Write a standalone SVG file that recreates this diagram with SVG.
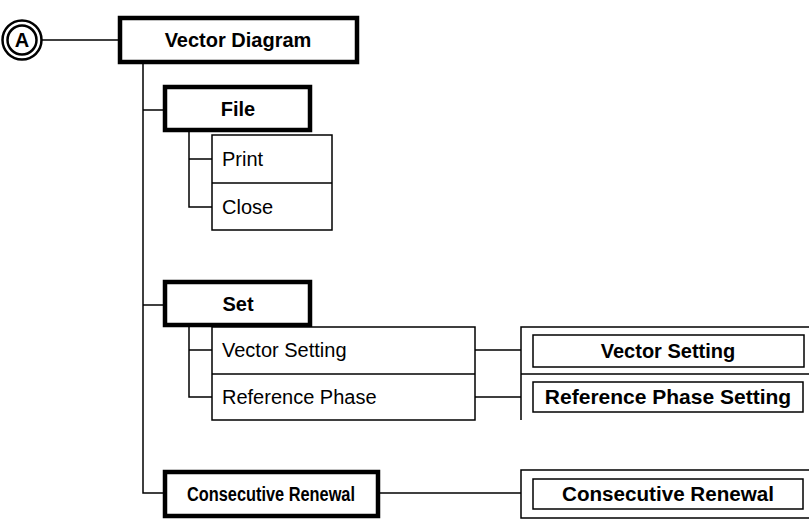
<svg xmlns="http://www.w3.org/2000/svg" width="809" height="522" viewBox="0 0 809 522">
<style>
.thick{fill:#fff;stroke:#000;stroke-width:4.5}
.thin{fill:#fff;stroke:#000;stroke-width:1.5}
.ln{fill:none;stroke:#000;stroke-width:1.5}
.b{font-family:"Liberation Sans",Arial,sans-serif;font-weight:bold;font-size:20px;text-anchor:middle;fill:#000}
.r{font-family:"Liberation Sans",Arial,sans-serif;font-size:20px;fill:#000}
</style>
<rect width="809" height="522" fill="#fff"/>
<g id="connectors">
<path class="ln" d="M42,40H120"/>
<path class="ln" d="M143,62V493H165"/>
<path class="ln" d="M143,110H165"/>
<path class="ln" d="M143,305H165"/>
<path class="ln" d="M189,130V207H212M189,159H212"/>
<path class="ln" d="M189,325V397H212M189,350H212"/>
<path class="ln" d="M475,350H521M475,397H521"/>
<path class="ln" d="M378,493H521"/>
</g>
<g id="nodeA">
<circle cx="22" cy="40" r="19.5" fill="#fff" stroke="#000" stroke-width="2.5"/>
<circle cx="22" cy="40" r="14.5" fill="#fff" stroke="#000" stroke-width="2.5"/>
<text class="b" x="22" y="47" style="font-size:20px">A</text>
</g>
<g id="vectorDiagram">
<rect class="thick" x="120" y="18" width="237" height="44"/>
<text class="b" x="238" y="47">Vector Diagram</text>
</g>
<g id="file">
<rect class="thick" x="165" y="87" width="145" height="43"/>
<text class="b" x="238" y="116">File</text>
</g>
<g id="fileMenu">
<rect class="thin" x="212" y="135" width="120" height="95"/>
<path class="ln" d="M212,183H332"/>
<text class="r" x="222" y="166">Print</text>
<text class="r" x="222" y="214">Close</text>
</g>
<g id="set">
<rect class="thick" x="165" y="282" width="145" height="43"/>
<text class="b" x="238" y="311">Set</text>
</g>
<g id="setMenu">
<rect class="thin" x="212" y="327" width="263" height="93"/>
<path class="ln" d="M212,374H475"/>
<text class="r" x="222" y="357">Vector Setting</text>
<text class="r" x="222" y="404">Reference Phase</text>
</g>
<g id="setDialogs">
<path class="ln" d="M521,420V327H811M521,374H811"/>
<rect class="thin" x="533" y="335" width="271" height="32"/>
<text class="b" x="668" y="358">Vector Setting</text>
<rect class="thin" x="533" y="382" width="270" height="30"/>
<text class="b" x="668" y="404" style="font-size:21px">Reference Phase Setting</text>
</g>
<g id="consecutiveRenewal">
<rect class="thick" x="165" y="472" width="213" height="44"/>
<text class="b" x="271" y="501" textLength="168" lengthAdjust="spacingAndGlyphs">Consecutive Renewal</text>
</g>
<g id="consecutiveDialog">
<path class="ln" d="M811,470H521V518H811"/>
<rect class="thin" x="533" y="479" width="270" height="30"/>
<text class="b" x="668" y="501" textLength="212" lengthAdjust="spacingAndGlyphs">Consecutive Renewal</text>
</g>
</svg>
